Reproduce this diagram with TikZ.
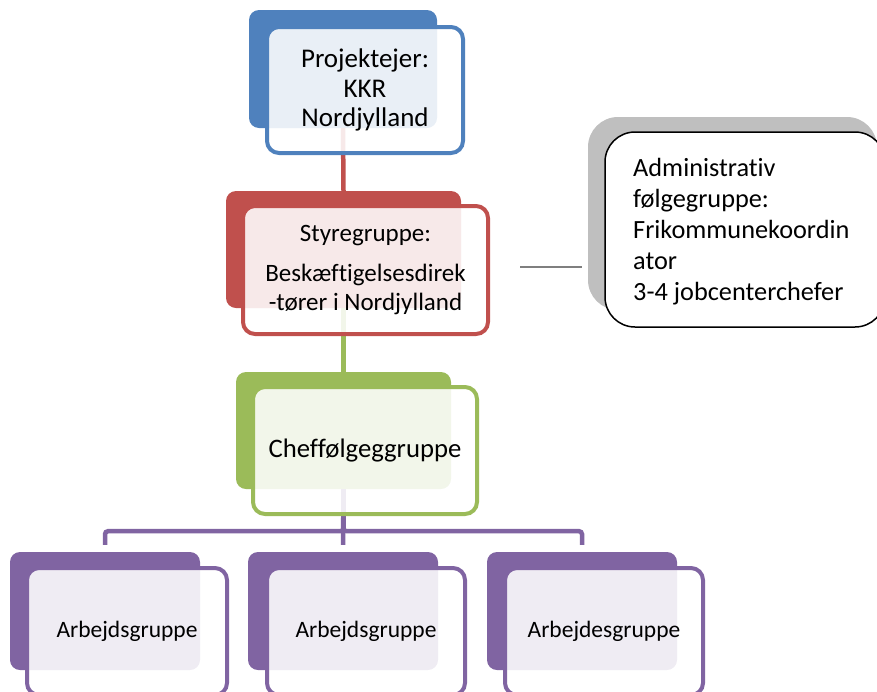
\documentclass[tikz,border=0pt]{standalone}
\usepackage{fontspec}
\setmainfont{Carlito}[Ligatures=NoCommon]
\usepackage{xcolor}
\usetikzlibrary{positioning,calc}
\definecolor{ownerblue}{HTML}{4F81BD}
\definecolor{boardred}{HTML}{C0504D}
\definecolor{chiefgreen}{HTML}{9BBB59}
\definecolor{workpurple}{HTML}{8064A2}
\definecolor{admingray}{HTML}{BFBFBF}
\definecolor{linkgray}{HTML}{7F7F7F}

\begin{document}
\begin{tikzpicture}[x=1pt, y=-1pt,
    back-box/.style={rectangle, rounded corners=10pt, inner sep=0pt},
    front-box/.style={rectangle, draw, line width=4pt, fill=white, fill opacity=0.88,
                      text opacity=1, rounded corners=12pt, align=center, inner sep=0pt,
                      font=\fontsize{27}{29.5}\selectfont},
    link/.style={line width=4.5pt}]
    \useasboundingbox (0,0) rectangle (877,691);

    \node[back-box, fill=ownerblue, minimum width=188, minimum height=118] (ownerback) at (343,69) {};
    \node[back-box, fill=boardred, minimum width=235, minimum height=117] (boardback) at (343.5,249.5) {};
    \node[back-box, fill=chiefgreen, minimum width=215, minimum height=117] (chiefback) at (343.5,430.5) {};
    \node[back-box, fill=workpurple, minimum width=190, minimum height=118] (work1back) at (105,611) {};
    \node[back-box, fill=workpurple, minimum width=190, minimum height=118] (work2back) at (343,611) {};
    \node[back-box, fill=workpurple, minimum width=190, minimum height=118] (work3back) at (582,611) {};
    \node[back-box, fill=admingray, rounded corners=30pt, minimum width=289, minimum height=193] (adminback) at (732.5,213.5) {};

    \draw[link, boardred] (ownerback.south) -- (boardback.north);
    \draw[link, chiefgreen] (boardback.south) -- (chiefback.north);
    \draw[link, workpurple, rounded corners=3pt] (chiefback.south) -- ++(0,42) -| ([yshift=7pt]work1back.north);
    \draw[link, workpurple, rounded corners=3pt] (chiefback.south) -- ++(0,42) -| ([yshift=7pt]work3back.north);
    \draw[link, workpurple] (chiefback.south) -- ([yshift=7pt]work2back.north);

    \node[front-box, draw=ownerblue, minimum width=196, minimum height=126] (owner) at (365,90) {Projektejer:\\ KKR\\ Nordjylland};
    \node[front-box, draw=boardred, minimum width=245, minimum height=128, font=\fontsize{25}{29}\selectfont] (board) at (365.5,270) {Styregruppe:\\[11pt] Beskæftigelsesdirek\\ -tører i Nordjylland};
    \node[front-box, draw=chiefgreen, minimum width=224, minimum height=127, font=\fontsize{26.7}{30}\selectfont] (chief) at (365,450.5) {Cheffølgeggruppe};
    \node[front-box, draw=workpurple, minimum width=200, minimum height=127, font=\fontsize{23.5}{27}\selectfont] (work1) at (127,631.5) {Arbejdsgruppe};
    \node[front-box, draw=workpurple, minimum width=198, minimum height=127, font=\fontsize{23.5}{27}\selectfont] (work2) at (366,631.5) {Arbejdsgruppe};
    \node[front-box, draw=workpurple, minimum width=198, minimum height=127, font=\fontsize{23.5}{27}\selectfont] (work3) at (604,631.5) {Arbejdesgruppe};
    \node[rectangle, draw=black, line width=1.5pt, fill=white, rounded corners=30pt,
          minimum width=280, minimum height=195] (admin) at (745,229.5) {};

    \begin{scope}
        \clip (600,140) rectangle (880,304);
        \node[anchor=north west, align=left, inner sep=0pt, font=\fontsize{26.3}{31}\selectfont] (admintext) at (633,158)
            {Administrativ\\ følgegruppe:\\ Frikommunekoordin\\ ator\\ 3-4 jobcenterchefer};
    \end{scope}

    \coordinate (adminlink) at (582,267);
    \draw[linkgray, line width=2.5pt] ($(board.east)+(30,-3)$) -- (adminlink);
\end{tikzpicture}
\end{document}
